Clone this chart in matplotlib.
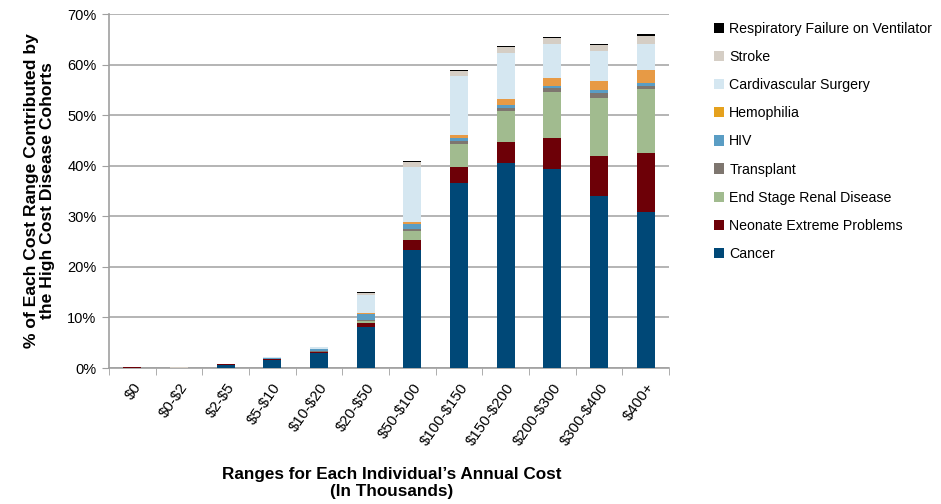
import numpy as np
import matplotlib
matplotlib.use("Agg")
import matplotlib.pyplot as plt
from matplotlib.patches import Patch

plt.rcParams['font.family'] = ['Liberation Sans', 'DejaVu Sans']
plt.rcParams['text.parse_math'] = False   # keep the $ signs literal

# categories (cost ranges, in thousands)
ranges = ['$0', '$0-$2', '$2-$5', '$5-$10', '$10-$20', '$20-$50', '$50-$100',
          '$100-$150', '$150-$200', '$200-$300', '$300-$400', '$400+']

# segment heights, % of each cost range
cancer     = [0.00, 0.00, 0.65, 1.60, 2.90, 8.15, 23.3, 36.6, 40.6, 39.3, 34.1, 30.9]
neonate    = [0.10, 0.00, 0.10, 0.10, 0.25, 0.65, 2.10, 3.20, 4.00, 6.10, 7.90, 11.7]
esrd       = [0.00, 0.00, 0.00, 0.05, 0.10, 0.40, 1.70, 4.50, 6.30, 9.10, 11.4, 12.6]
transplant = [0.00, 0.00, 0.00, 0.05, 0.10, 0.30, 0.40, 0.50, 0.60, 0.80, 0.90, 0.50]
hiv        = [0.00, 0.00, 0.05, 0.10, 0.35, 1.20, 1.00, 0.60, 0.60, 0.50, 0.60, 0.70]
hemophilia = [0.00, 0.00, 0.00, 0.00, 0.05, 0.20, 0.40, 0.70, 1.00, 1.60, 1.90, 2.60]
cv_surgery = [0.00, 0.05, 0.00, 0.20, 0.40, 3.60, 10.9, 11.7, 9.20, 6.60, 5.90, 5.00]
stroke     = [0.00, 0.15, 0.05, 0.05, 0.10, 0.40, 1.00, 1.00, 1.20, 1.30, 1.20, 1.60]
resp_fail  = [0.00, 0.00, 0.00, 0.00, 0.00, 0.05, 0.05, 0.20, 0.10, 0.20, 0.20, 0.40]

series = [
    ('Cancer', cancer, '#004877'),
    ('Neonate Extreme Problems', neonate, '#6d0007'),
    ('End Stage Renal Disease', esrd, '#a1bb8f'),
    ('Transplant', transplant, '#7e766f'),
    ('HIV', hiv, '#5a9dc4'),
    ('Hemophilia', hemophilia, '#e79a45'),
    ('Cardivascular Surgery', cv_surgery, '#d5e7f1'),
    ('Stroke', stroke, '#d5cec5'),
    ('Respiratory Failure on Ventilator', resp_fail, '#000000'),
]
legend_colors = {'Hemophilia': '#e5a11d'}

fig = plt.figure(figsize=(9.41, 5.04), dpi=100)
ax = fig.add_axes([109 / 941, 1 - 368 / 504, 560 / 941, 354 / 504])

x = np.arange(len(ranges))
bottom = np.zeros(len(ranges))
for name, vals, color in series:
    vals = np.array(vals)
    ax.bar(x, vals, 0.39, bottom=bottom, color=color, edgecolor='none', zorder=3)
    bottom += vals

ax.set_xlim(-0.5, len(ranges) - 0.5)
ax.set_ylim(0, 70)
ax.set_yticks(np.arange(0, 71, 10))
ax.set_yticklabels([f'{v}%' for v in range(0, 71, 10)], fontsize=10.5)
ax.yaxis.grid(True, color='#a8a8a8', linewidth=1.2, zorder=0)

# category labels between boundary ticks, Excel style
ax.set_xticks(x)
ax.set_xticklabels(ranges, rotation=55, ha='right', rotation_mode='anchor', fontsize=10.8)
ax.set_xticks(np.arange(-0.5, len(ranges)), minor=True)
ax.tick_params(axis='x', which='major', length=0, pad=9)
ax.tick_params(axis='x', which='minor', length=5, color='#a0a0a0', direction='out')
ax.tick_params(axis='y', length=5, color='#a0a0a0', direction='out', pad=4)

for side in ['top', 'right']:
    ax.spines[side].set_visible(False)
for side in ['left', 'bottom']:
    ax.spines[side].set_color('#a0a0a0')
    ax.spines[side].set_linewidth(1.2)

ax.set_ylabel('% of Each Cost Range Contributed by\nthe High Cost Disease Cohorts',
              fontsize=12.6, fontweight='bold', linespacing=1.05, labelpad=9)
fig.text(392 / 941, 1 - 483 / 504,
         'Ranges for Each Individual\u2019s Annual Cost\n(In Thousands)',
         ha='center', va='center', fontsize=12.3, fontweight='bold', linespacing=1.2)

handles = [Patch(facecolor=legend_colors.get(n, c), edgecolor='none', label=n)
           for n, v, c in reversed(series)]
fig.legend(handles=handles, loc='upper left', bbox_to_anchor=(701 / 941, 1 - 9 / 504),
           frameon=False, fontsize=10.2, handlelength=0.75, handleheight=0.75,
           handletextpad=0.35, labelspacing=1.0)

fig.savefig('out.png', dpi=100)
